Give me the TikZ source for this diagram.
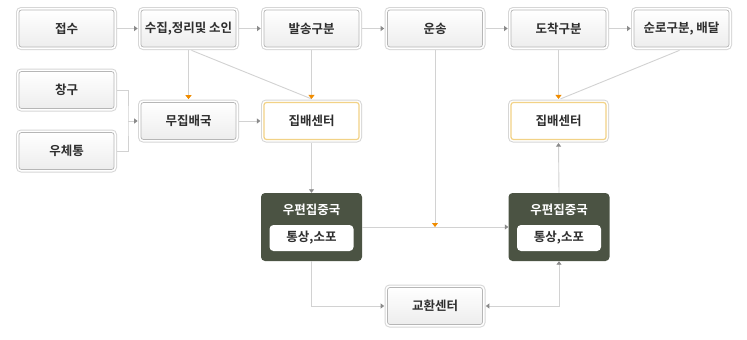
\documentclass[tikz,border=0pt]{standalone}
\usepackage{fontspec}
\setmainfont{Noto Sans CJK KR Bold}
\usetikzlibrary{arrows.meta,positioning}
\definecolor{ink}{HTML}{2E2E2E}
\definecolor{wire}{HTML}{D2D2D2}
\definecolor{tipgray}{HTML}{8A8A8A}
\definecolor{tiporange}{HTML}{F08C00}
\definecolor{hub}{HTML}{F2D286}
\definecolor{center}{HTML}{4B5343}
\definecolor{rim}{HTML}{D6D6D6}

\tikzset{
  stagebox/.style={rectangle, rounded corners=2.5pt, minimum width=95pt, minimum height=37pt,
    draw=rim!85!black, line width=0.7pt, top color=white, bottom color=black!7,
    preaction={draw=rim, line width=6pt}, preaction={draw=white, line width=4pt},
    text=ink},
  hubbox/.style={stagebox, draw=hub, line width=1.2pt, top color=white, bottom color=white},
  centerbox/.style={rectangle, rounded corners=4pt, minimum width=101pt, minimum height=68pt,
    fill=center},
  tagbox/.style={rectangle, rounded corners=4pt, minimum width=84pt, minimum height=26pt,
    fill=white, text=ink},
  flow/.style={draw=wire, line width=0.9pt, -{Triangle[width=5pt,length=3.5pt,color=tipgray]}},
  feed/.style={draw=wire, line width=0.9pt, -{Triangle[width=6pt,length=4pt,color=tiporange]}},
  both/.style={draw=wire, line width=0.9pt,
    {Triangle[width=5pt,length=3.5pt,color=tipgray]}-{Triangle[width=5pt,length=3.5pt,color=tipgray]}},
  plain/.style={draw=wire, line width=0.9pt}
}

\begin{document}
\begin{tikzpicture}[x=1pt, y=-1pt, font=\fontsize{12.5}{14}\selectfont]
\useasboundingbox[fill=white] (0,0) rectangle (747,340);
% top row
\node[stagebox] (recv)  at (66.5,28.5)  {접수};
\node[stagebox] (coll)  at (188.5,28.5) {수집,정리및 소인};
\node[stagebox] (send)  at (311.5,28.5) {발송구분};
\node[stagebox] (ship)  at (435,28.5)   {운송};
\node[stagebox] (arr)   at (558.5,28.5) {도착구분};
\node[stagebox] (route) at (681.5,28.5) {순로구분, 배달};
% second row
\node[stagebox] (win)   at (66.5,90)    {창구};
\node[stagebox] (box)   at (66.5,151)   {우체통};
\node[stagebox] (rural) at (188.5,121)  {무집배국};
\node[hubbox]   (hubL)  at (311.5,121)  {집배센터};
\node[hubbox]   (hubR)  at (558.5,121)  {집배센터};
% mail centers
\node[centerbox] (cenL) at (311.5,227) {};
\node[text=white] (titL) at ([yshift=-17pt]cenL.north) {우편집중국};
\node[tagbox] (tagL) at ([yshift=-11pt]cenL.center) {통상,소포};
\node[centerbox] (cenR) at (559,227) {};
\node[text=white] (titR) at ([yshift=-17pt]cenR.north) {우편집중국};
\node[tagbox] (tagR) at ([yshift=-11pt]cenR.center) {통상,소포};
\node[stagebox] (swap) at (435,306) {교환센터};

\coordinate (join) at (128,121);
\coordinate (mid) at (ship.south |- cenL.east);
\coordinate (cornL) at (cenL.south |- swap.west);
\coordinate (cornR) at (cenR.south |- swap.east);

\foreach \a/\b in {recv/coll, coll/send, send/ship, ship/arr, arr/route, rural/hubL}
  \draw[flow] ([xshift=3pt]\a.east) -- ([xshift=-3pt]\b.west);
\draw[plain] ([xshift=3pt]win.east) -| (join) |- ([xshift=3pt]box.east);
\draw[flow] (join) -- ([xshift=-3pt]rural.west);

\draw[plain] ([xshift=3pt,yshift=-3pt]coll.south) -- ([yshift=3pt]hubL.north);
\draw[plain] ([xshift=-2pt,yshift=-3pt]route.south) -- ([xshift=2pt,yshift=3pt]hubR.north);
\draw[feed] ([yshift=-3pt]coll.south) -- ([yshift=3pt]rural.north);
\draw[feed] ([yshift=-3pt]send.south) -- ([yshift=3pt]hubL.north);
\draw[feed] ([yshift=-3pt]arr.south) -- ([yshift=3pt]hubR.north);
\draw[feed] ([yshift=-3pt]ship.south) -- (mid);

\draw[flow] ([yshift=-3pt]hubL.south) -- (cenL.north);
\draw[flow] (cenL.east) -- (cenR.west);
\draw[flow] (cenR.north) -- ([yshift=-3pt]hubR.south);
\draw[flow] (cenL.south) -- (cornL) -- ([xshift=-3pt]swap.west);
\draw[both] ([xshift=3pt]swap.east) -- (cornR) -- (cenR.south);
\end{tikzpicture}
\end{document}
